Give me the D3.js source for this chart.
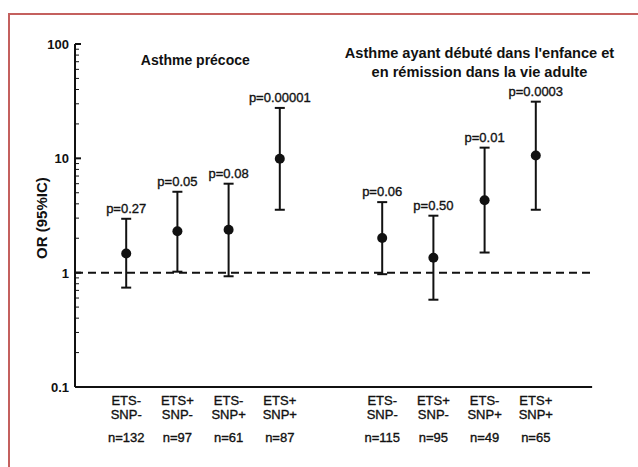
<!DOCTYPE html>
<html>
<head>
<meta charset="utf-8">
<script src="https://cdn.jsdelivr.net/npm/d3@7"></script>
<style>
  body { margin: 0; background: #fff; }
  svg { display: block; font-family: "Liberation Sans", Arial, sans-serif; }
</style>
</head>
<body>
<script>
// data
const etsLabels = ["ETS-", "ETS+", "ETS-", "ETS+", "ETS-", "ETS+", "ETS-", "ETS+"];
const snpLabels = ["SNP-", "SNP-", "SNP+", "SNP+", "SNP-", "SNP-", "SNP+", "SNP+"];
const nLabels = ["n=132", "n=97", "n=61", "n=87", "n=115", "n=95", "n=49", "n=65"];
const positions = [1, 2, 3, 4, 6, 7, 8, 9];
const orValues = [1.47, 2.3, 2.37, 9.9, 2.01, 1.35, 4.3, 10.6];
const ciLow = [0.74, 1.02, 0.93, 3.55, 0.97, 0.58, 1.5, 3.55];
const ciHigh = [2.96, 5.1, 6.0, 27.6, 4.14, 3.15, 12.4, 31.3];
const pLabels = ["p=0.27", "p=0.05", "p=0.08", "p=0.00001", "p=0.06", "p=0.50", "p=0.01", "p=0.0003"];
const yTicks = [0.1, 1, 10, 100];

const W = 638, H = 467;
const margin = { left: 75, right: 51, top: 44, bottom: 80 };

const svg = d3.select("body").append("svg")
  .attr("width", W)
  .attr("height", H);

// frame (only top and left edges are visible in the crop)
svg.append("path")
  .attr("d", `M9,${H + 5} V14 H${W + 5}`)
  .attr("fill", "none")
  .attr("stroke", "#c4605e")
  .attr("stroke-width", 2);

const x = d3.scaleLinear()
  .domain([0, 10])
  .range([margin.left, W - margin.right]);

const y = d3.scaleLog()
  .domain([0.1, 100])
  .range([H - margin.bottom, margin.top]);

// y axis with minor ticks pointing inward
const minor = [];
[0.1, 1, 10].forEach((d) => {
  for (let k = 2; k <= 9; k++) minor.push(d * k);
});

const yAxis = svg.append("g")
  .attr("transform", `translate(${margin.left},0)`);

yAxis.append("line")
  .attr("y1", y(100))
  .attr("y2", y(0.1))
  .attr("stroke", "#111")
  .attr("stroke-width", 2);

yAxis.selectAll(".minor")
  .data(minor)
  .enter()
  .append("line")
  .attr("x1", 0)
  .attr("x2", 4)
  .attr("y1", (d) => y(d))
  .attr("y2", (d) => y(d))
  .attr("stroke", "#111")
  .attr("stroke-width", 1);

yAxis.selectAll(".major")
  .data(yTicks)
  .enter()
  .append("line")
  .attr("x1", 0)
  .attr("x2", 6)
  .attr("y1", (d) => y(d))
  .attr("y2", (d) => y(d))
  .attr("stroke", "#111")
  .attr("stroke-width", 2);

yAxis.selectAll("text")
  .data(yTicks)
  .enter()
  .append("text")
  .attr("x", -6)
  .attr("y", (d) => y(d) + 5)
  .attr("text-anchor", "end")
  .attr("font-size", 13)
  .attr("font-weight", "bold")
  .attr("fill", "#111")
  .text((d) => d);

// x axis line
svg.append("line")
  .attr("x1", margin.left)
  .attr("x2", x(10.1))
  .attr("y1", y(0.1))
  .attr("y2", y(0.1))
  .attr("stroke", "#111")
  .attr("stroke-width", 2);

// reference line OR = 1
svg.append("line")
  .attr("x1", margin.left)
  .attr("x2", x(10.1))
  .attr("y1", y(1))
  .attr("y2", y(1))
  .attr("stroke", "#111")
  .attr("stroke-width", 2)
  .attr("stroke-dasharray", "8,5");

// y label
svg.append("text")
  .attr("transform", `translate(47,${y(Math.sqrt(10) * 0.95)}) rotate(-90)`)
  .attr("text-anchor", "middle")
  .attr("font-size", 15)
  .attr("font-weight", "bold")
  .attr("fill", "#111")
  .text("OR (95%IC)");

// error bars
const bars = svg.append("g");
positions.forEach((p, i) => {
  const cx = x(p);
  bars.append("line")
    .attr("x1", cx).attr("x2", cx)
    .attr("y1", y(ciHigh[i])).attr("y2", y(ciLow[i]))
    .attr("stroke", "#111").attr("stroke-width", 2);
  [ciHigh[i], ciLow[i]].forEach((v) => {
    bars.append("line")
      .attr("x1", cx - 5).attr("x2", cx + 5)
      .attr("y1", y(v)).attr("y2", y(v))
      .attr("stroke", "#111").attr("stroke-width", 2);
  });
  bars.append("circle")
    .attr("cx", cx)
    .attr("cy", y(orValues[i]))
    .attr("r", 5)
    .attr("fill", "#111");
  bars.append("text")
    .attr("x", cx)
    .attr("y", y(ciHigh[i]) - 6)
    .attr("text-anchor", "middle")
    .attr("font-size", 13)
    .attr("fill", "#111")
    .attr("stroke", "#111")
    .attr("stroke-width", 0.35)
    .text(pLabels[i]);
});

// category labels
const cats = svg.append("g")
  .attr("font-size", 13)
  .attr("fill", "#111")
  .attr("stroke", "#111")
  .attr("stroke-width", 0.35)
  .attr("text-anchor", "middle");
positions.forEach((p, i) => {
  cats.append("text").attr("x", x(p)).attr("y", 405).text(etsLabels[i]);
  cats.append("text").attr("x", x(p)).attr("y", 419).text(snpLabels[i]);
  cats.append("text").attr("x", x(p)).attr("y", 442).text(nLabels[i]);
});

// group titles
svg.append("text")
  .attr("x", x(2.35))
  .attr("y", 65)
  .attr("text-anchor", "middle")
  .attr("font-size", 14)
  .attr("font-weight", "bold")
  .attr("fill", "#111")
  .text("Asthme précoce");

const t2 = svg.append("text")
  .attr("text-anchor", "middle")
  .attr("font-size", 14.6)
  .attr("font-weight", "bold")
  .attr("fill", "#111");
t2.append("tspan").attr("x", x(7.9)).attr("y", 58).text("Asthme ayant débuté dans l'enfance et");
t2.append("tspan").attr("x", x(7.9)).attr("y", 77).text("en rémission dans la vie adulte");
</script>
</body>
</html>
